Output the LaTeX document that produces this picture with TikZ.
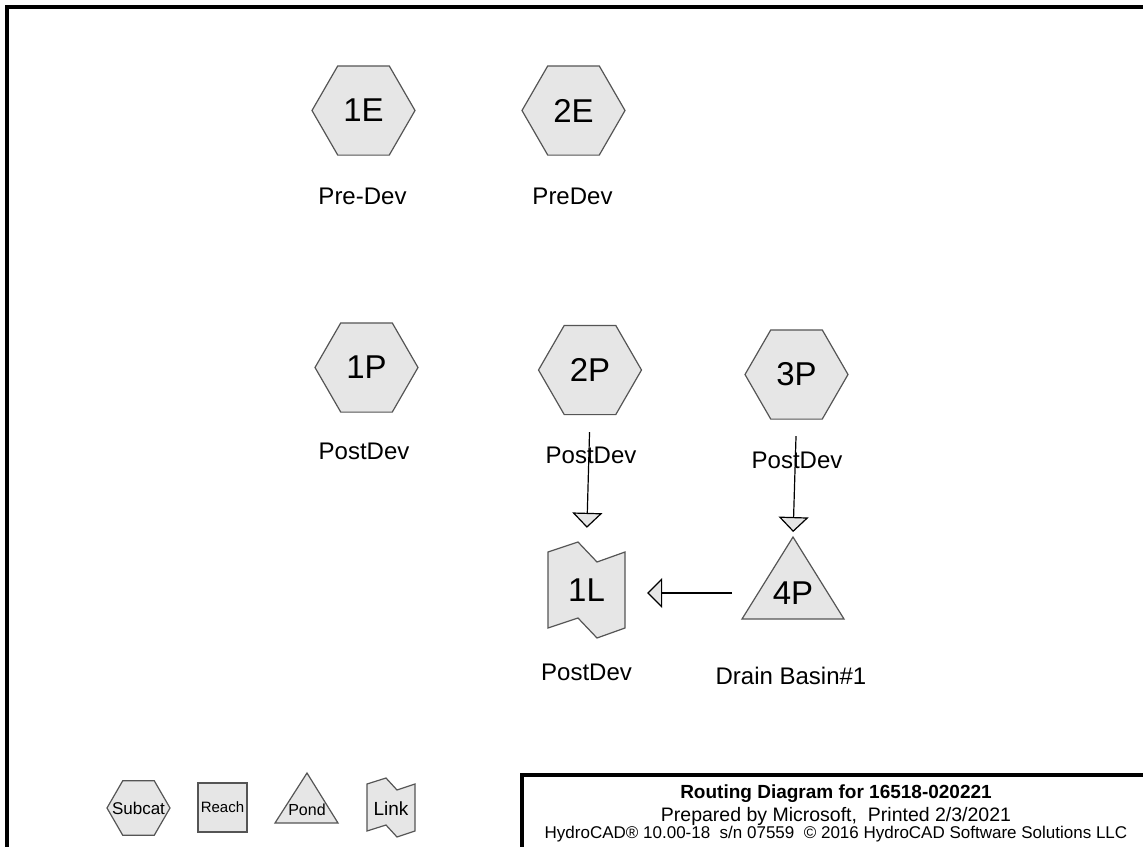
\documentclass[tikz,border=0pt]{standalone}
\usepackage{fontspec}
\setmainfont{Liberation Sans}
\usetikzlibrary{shapes.geometric,arrows.meta,calc}
\definecolor{shapefill}{HTML}{E6E6E6}
\definecolor{shapeline}{HTML}{555555}
\begin{document}
\begin{tikzpicture}[x=1pt,y=-1pt,
  shp/.style={draw=shapeline, fill=shapefill, line width=1.2pt},
  bigtext/.style={font=\fontsize{33pt}{36pt}\selectfont},
  subcat/.style={shp, regular polygon, regular polygon sides=6, minimum size=103pt, inner sep=0pt, bigtext},
  lbl/.style={font=\fontsize{24pt}{26pt}\selectfont},
  flow/.style={draw=black, line width=1.2pt, -{Triangle[width=30pt,length=15pt,fill=shapefill]}},
  frame/.style={draw=black, line width=4pt}
]
\clip (0,0) rectangle (1143,846);
\useasboundingbox (0,0) rectangle (1143,846);

% outer frame
\draw[frame] (1160,7) -- (7,7) -- (7,860);

% subcatchments
\node[subcat] (1E) at (363.5,110.5) {1E};
\node[subcat] (2E) at (573.5,110.5) {2E};
\node[subcat] (1P) at (366.5,367.5) {1P};
\node[subcat] (2P) at (590,370) {2P};
\node[subcat] (3P) at (796.5,374.5) {3P};

\node[lbl] (1Elbl) at (362.5,196) {Pre-Dev};
\node[lbl] (2Elbl) at (572.5,196) {PreDev};
\node[lbl] (1Plbl) at (364,451) {PostDev};
\node[lbl] (2Plbl) at (591,455) {PostDev};
\node[lbl] (3Plbl) at (797,460) {PostDev};

% link 1L
\draw[shp] (548,552) -- (578,542) -- (597,562) -- (625,552) -- (625,628)
  -- (597,638) -- (578,618) -- (548,628) -- cycle;
\node[bigtext, minimum width=77pt, minimum height=96pt, inner sep=0pt] (1L) at (586.5,590) {1L};
\node[lbl] (1Llbl) at (586.5,672) {PostDev};

% pond 4P
\draw[shp] (793,537) -- (844,619) -- (742,619) -- cycle;
\coordinate (4Papex) at (793,537);
\coordinate (4Pleft) at (742,619);
\node[bigtext, inner sep=0pt] (4P) at (793,593) {4P};
\node[lbl] (4Plbl) at (791,676) {Drain Basin\#1};

% connectors
\draw[flow, shorten <=17pt, shorten >=14pt] (2P.south) -- (1L.north);
\draw[flow, shorten <=16.5pt, shorten >=5pt] (3P.south) -- (4Papex);
\draw[flow, shorten <=10pt, shorten >=22pt] (4P -| 4Pleft) -- (4P -| 1L.east);

% legend
\node[shp, regular polygon, regular polygon sides=6, minimum size=63pt, inner sep=0pt,
  label={[font=\fontsize{17pt}{18pt}\selectfont, inner sep=0pt]center:Subcat}] (legsub) at (138.5,808) {};
\node[shp, rectangle, minimum size=49pt, inner sep=0pt,
  font=\fontsize{15pt}{16pt}\selectfont] (legreach) at (222.5,807.5) {Reach};
\draw[shp] (307,773) -- (338,823) -- (275,823) -- cycle;
\node[font=\fontsize{16pt}{17pt}\selectfont, inner sep=0pt] (legpond) at (307,810) {Pond};
\draw[shp] (367,784) -- (386,778) -- (397,790) -- (415,784) -- (415,831)
  -- (397,837) -- (386,825) -- (367,831) -- cycle;
\node[font=\fontsize{19pt}{20pt}\selectfont, inner sep=0pt] (leglink) at (391,809) {Link};

% title block
\draw[frame] (1160,775) -- (522,775) -- (522,860);
\node[anchor=base, inner sep=0pt, font=\bfseries\fontsize{19pt}{20pt}\selectfont] (t1) at (836,798) {Routing Diagram for 16518-020221};
\node[anchor=base, inner sep=0pt, font=\fontsize{19.5pt}{20pt}\selectfont] (t2) at (836,821) {Prepared by Microsoft,\ \ Printed 2/3/2021};
\node[anchor=base, inner sep=0pt, font=\fontsize{17pt}{18pt}\selectfont] (t3) at (836,838) {HydroCAD® 10.00-18\ \ s/n 07559\ \ © 2016 HydroCAD Software Solutions LLC};
\end{tikzpicture}
\end{document}
